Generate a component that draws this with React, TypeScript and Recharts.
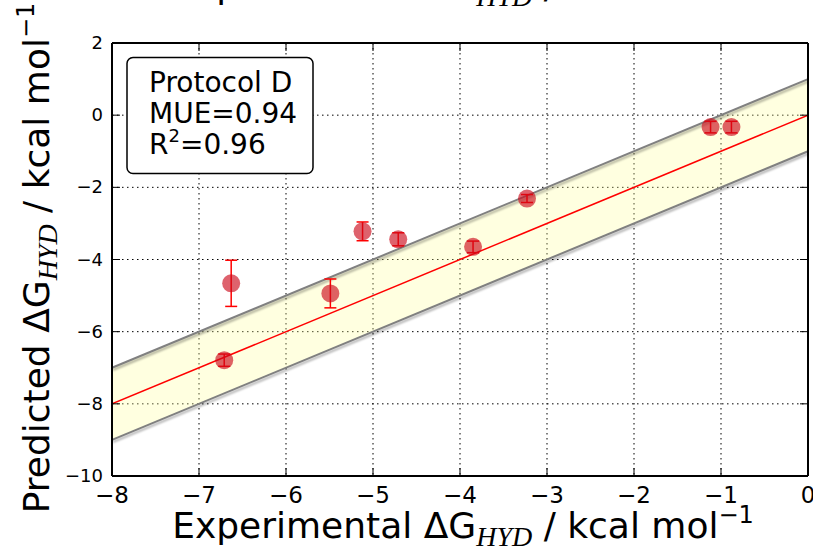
import React from 'react';
import { ComposedChart, XAxis, YAxis, CartesianGrid, Area, Line, Scatter, ErrorBar } from 'recharts';

const experimental = [-6.71, -6.63, -5.49, -5.12, -4.71, -3.85, -3.23, -1.12, -0.88];
const predicted = [-6.79, -4.66, -4.94, -3.22, -3.44, -3.65, -2.31, -0.33, -0.33];
const errors = [0.17, 0.64, 0.4, 0.26, 0.18, 0.16, 0.11, 0.16, 0.16];

const xTicks = [-8, -7, -6, -5, -4, -3, -2, -1, 0];
const yTicks = [-10, -8, -6, -4, -2, 0, 2];
const lineX = [-8, 0];
const tolerance = 1;

const points = experimental.map((x, i) => ({ x, y: predicted[i], err: errors[i] }));
const bandData = lineX.map((x) => ({
  x,
  ideal: x,
  upper: x + tolerance,
  lower: x - tolerance,
  band: [x - tolerance, x + tolerance],
}));

const fmt = (v: number) => (v < 0 ? '\u2212' + Math.abs(v) : String(v));
const FONT = 'DejaVu Sans';

// plot area edges
const PL = 112, PR = 808, PT = 43, PB = 476;

const BottomTick = (p: any) => (
  <g>
    <line x1={p.x} y1={PB} x2={p.x} y2={PB - 8} stroke="#000" strokeWidth={1} />
    <text x={p.x} y={PB + 27} textAnchor="middle" fontSize={23} fontFamily={FONT} fill="#000">
      {fmt(p.payload.value)}
    </text>
  </g>
);
const TopTick = (p: any) => (
  <line x1={p.x} y1={PT} x2={p.x} y2={PT + 8} stroke="#000" strokeWidth={1} />
);
const LeftTick = (p: any) => (
  <g>
    <line x1={PL} y1={p.y} x2={PL + 8} y2={p.y} stroke="#000" strokeWidth={1} />
    <text x={PL - 9} y={p.y + 6} textAnchor="end" fontSize={18} fontFamily={FONT} fill="#000">
      {fmt(p.payload.value)}
    </text>
  </g>
);
const RightTick = (p: any) => (
  <line x1={PR} y1={p.y} x2={PR - 8} y2={p.y} stroke="#000" strokeWidth={1} />
);

const Dot = (p: any) => <circle cx={p.cx} cy={p.cy} r={9} fill="#cc0a1a" fillOpacity={0.64} />;

const axisLine = { stroke: '#000', strokeWidth: 2 };

const LabelText = ({ x, y }: { x: number; y: number }) => (
  <text x={x} y={y} textAnchor="middle" fontFamily={FONT} fontSize={36} fill="#000">
    Experimental ΔG
    <tspan fontFamily="Liberation Serif" fontStyle="italic" fontSize={28} dy={8}>HYD</tspan>
    <tspan dy={-8}> / kcal mol</tspan>
    <tspan fontSize={24} dy={-15}>{'\u22121'}</tspan>
  </text>
);

export default function App() {
  return (
    <div style={{ position: 'absolute', left: 0, top: 0, width: 813, height: 552, background: '#fff' }}>
      <style>{`.edge path { filter: drop-shadow(1.5px 2px 1.2px rgba(0,0,0,0.35)); }`}</style>
      <ComposedChart width={813} height={552} data={bandData} margin={{ top: 13, right: 0, bottom: 46, left: 52 }}>
        <CartesianGrid stroke="#000" strokeDasharray="1.5 3.5" strokeWidth={1} />
        <XAxis
          type="number"
          dataKey="x"
          domain={[-8, 0]}
          ticks={xTicks}
          interval={0}
          height={30}
          tickLine={false}
          axisLine={axisLine}
          tick={BottomTick}
          allowDataOverflow
        />
        <XAxis
          xAxisId="top"
          orientation="top"
          type="number"
          dataKey="x"
          domain={[-8, 0]}
          ticks={xTicks}
          interval={0}
          height={30}
          tickLine={false}
          axisLine={axisLine}
          tick={TopTick}
          allowDataOverflow
        />
        <YAxis
          type="number"
          domain={[-10, 2]}
          ticks={yTicks}
          interval={0}
          width={60}
          tickLine={false}
          axisLine={axisLine}
          tick={LeftTick}
          allowDataOverflow
        />
        <YAxis
          yAxisId="right"
          orientation="right"
          type="number"
          domain={[-10, 2]}
          ticks={yTicks}
          interval={0}
          width={5}
          tickLine={false}
          axisLine={axisLine}
          tick={RightTick}
          allowDataOverflow
        />
        <Area dataKey="band" fill="#ffff99" fillOpacity={0.3} stroke="none" isAnimationActive={false} />
        <Line dataKey="upper" className="edge" stroke="#808080" strokeWidth={2} dot={false} isAnimationActive={false} />
        <Line dataKey="lower" className="edge" stroke="#808080" strokeWidth={2} dot={false} isAnimationActive={false} />
        <Line dataKey="ideal" stroke="#ff0000" strokeWidth={1.5} dot={false} isAnimationActive={false} />
        <Scatter data={points} dataKey="y" shape={Dot} isAnimationActive={false}>
          <ErrorBar dataKey="err" direction="y" width={6} stroke="#ff0000" strokeWidth={1.5} />
        </Scatter>
      </ComposedChart>
      <svg width={813} height={552} style={{ position: 'absolute', left: 0, top: 0, pointerEvents: 'none' }}>
        <LabelText x={463} y={-2} />
        <LabelText x={463} y={538} />
        <text transform="rotate(-90 49 258)" x={49} y={258} textAnchor="middle" fontFamily={FONT} fontSize={36} fill="#000">
          Predicted ΔG
          <tspan fontFamily="Liberation Serif" fontStyle="italic" fontSize={28} dy={8}>HYD</tspan>
          <tspan dy={-8}> / kcal mol</tspan>
          <tspan fontSize={24} dy={-15}>{'\u22121'}</tspan>
        </text>
        <rect x={127} y={57.5} width={186} height={116} rx={6} ry={6} fill="#fff" stroke="#000" strokeWidth={1.5} />
        <text x={149} y={92} fontFamily={FONT} fontSize={28} fill="#000">Protocol D</text>
        <text x={149} y={123} fontFamily={FONT} fontSize={28} fill="#000">MUE=0.94</text>
        <text x={149} y={154} fontFamily={FONT} fontSize={28} fill="#000">
          R<tspan fontSize={18} dy={-12}>2</tspan>
          <tspan dy={12}>=0.96</tspan>
        </text>
      </svg>
    </div>
  );
}
